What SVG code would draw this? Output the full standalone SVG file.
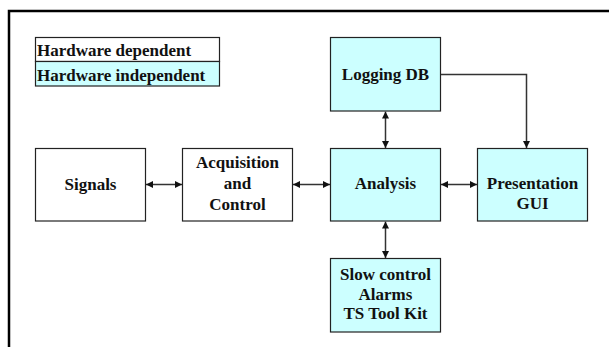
<svg xmlns="http://www.w3.org/2000/svg" width="609" height="347" viewBox="0 0 609 347">
<style>
text{font-family:"Liberation Serif","Times New Roman",serif;font-weight:bold;font-size:17px;fill:#111}
.box{stroke:#222;stroke-width:1.2}
.hw{fill:#fff}
.sw{fill:#ccffff}
.c{text-anchor:middle}
.con{stroke:#333;stroke-width:1.5;fill:none}
</style>
<defs>
<marker id="ah" viewBox="0 0 8 8" refX="8" refY="4" markerWidth="7" markerHeight="7" markerUnits="userSpaceOnUse" orient="auto-start-reverse">
<path d="M0,0 L8,4 L0,8 Z" fill="#111"/>
</marker>
</defs>
<rect width="609" height="347" fill="#fff"/>
<g id="frame">
<path d="M9,347 V11 H609" fill="none" stroke="#000" stroke-width="2.5"/>
</g>
<g id="legend">
<rect class="box hw" x="35.5" y="37.5" width="184" height="24"/>
<rect class="box sw" x="35.5" y="61.5" width="184" height="24.5"/>
<text x="37" y="56">Hardware dependent</text>
<text x="37" y="80.5">Hardware independent</text>
</g>
<g id="signals">
<rect class="box hw" x="35.5" y="148.5" width="110" height="72.5"/>
<text class="c" x="90.5" y="190">Signals</text>
</g>
<g id="acquisition">
<rect class="box hw" x="182.5" y="148.5" width="110" height="72.5"/>
<text class="c" x="237.5" y="167.5">Acquisition</text>
<text class="c" x="237.5" y="188.5">and</text>
<text class="c" x="237.5" y="209.5">Control</text>
</g>
<g id="analysis">
<rect class="box sw" x="330.5" y="148.5" width="110" height="72.5"/>
<text class="c" x="385.5" y="188.5">Analysis</text>
</g>
<g id="presentation">
<rect class="box sw" x="477.5" y="148.5" width="110" height="72.5"/>
<text class="c" x="532.5" y="188.5">Presentation</text>
<text class="c" x="532.5" y="209">GUI</text>
</g>
<g id="logging">
<rect class="box sw" x="330.5" y="37.5" width="110" height="73.5"/>
<text class="c" x="385.5" y="80">Logging DB</text>
</g>
<g id="slow">
<rect class="box sw" x="330.5" y="258.5" width="110" height="73.5"/>
<text class="c" x="385.5" y="280">Slow control</text>
<text class="c" x="385.5" y="299.5">Alarms</text>
<text class="c" x="385.5" y="319">TS Tool Kit</text>
</g>
<g id="connectors">
<line class="con" x1="146" y1="184.5" x2="182" y2="184.5" marker-start="url(#ah)" marker-end="url(#ah)"/>
<line class="con" x1="293" y1="184.5" x2="330" y2="184.5" marker-start="url(#ah)" marker-end="url(#ah)"/>
<line class="con" x1="441" y1="184.5" x2="477" y2="184.5" marker-start="url(#ah)" marker-end="url(#ah)"/>
<line class="con" x1="385.5" y1="111.5" x2="385.5" y2="148" marker-start="url(#ah)" marker-end="url(#ah)"/>
<line class="con" x1="385.5" y1="221.5" x2="385.5" y2="258" marker-start="url(#ah)" marker-end="url(#ah)"/>
<path class="con" d="M441,74.5 H526.5 V148" marker-end="url(#ah)"/>
</g>
</svg>
